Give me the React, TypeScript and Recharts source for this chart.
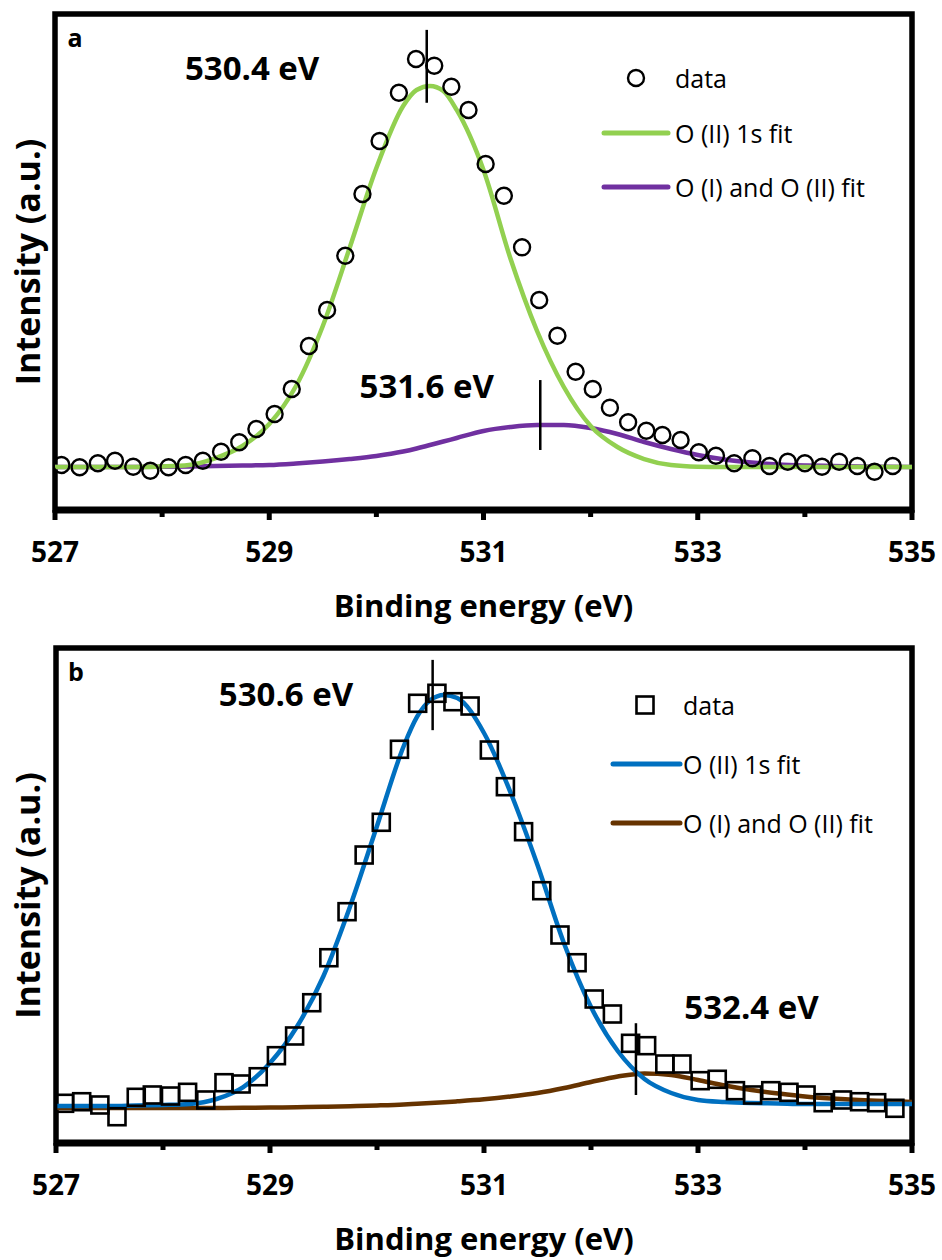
import {
  ComposedChart,
  Line,
  Scatter,
  XAxis,
  YAxis,
  ReferenceLine,
  ReferenceArea,
  ReferenceDot,
  Legend,
} from 'recharts';

const FONT = "'Open Sans', 'Noto Sans', sans-serif";

// energy grid of the fitted curves (eV)
const fitEnergy = [
  527, 527.25, 527.5, 527.75, 528, 528.25, 528.5, 528.75, 529, 529.25, 529.5, 529.75,
  530, 530.25, 530.375, 530.5, 530.625, 530.75, 531, 531.25, 531.5, 531.75, 532, 532.25,
  532.5, 532.75, 533, 533.25, 533.5, 533.75, 534, 534.25, 534.5, 534.75, 535,
];

// panel a
const energyA = [
  527.06, 527.23, 527.4, 527.56, 527.73, 527.89, 528.06, 528.22, 528.38, 528.55, 528.72, 528.88,
  529.05, 529.21, 529.37, 529.54, 529.71, 529.87, 530.03, 530.21, 530.37, 530.54, 530.7, 530.86,
  531.02, 531.19, 531.36, 531.52, 531.69, 531.86, 532.02, 532.18, 532.35, 532.52, 532.67, 532.84,
  533.01, 533.17, 533.34, 533.51, 533.67, 533.84, 534.0, 534.16, 534.32, 534.49, 534.65, 534.82,
];
const countsA = [
  9.07, 8.61, 9.42, 9.94, 8.73, 7.92, 8.61, 9.07, 9.94, 11.75, 13.65, 16.33,
  19.35, 24.4, 33.06, 40.32, 51.27, 63.71, 74.4, 84.13, 90.93, 89.58, 85.34, 80.65,
  69.76, 63.37, 52.96, 42.34, 35.14, 27.88, 24.4, 20.63, 17.68, 15.99, 15.12, 14.11,
  11.63, 10.95, 9.42, 10.42, 8.87, 9.74, 9.42, 8.73, 9.74, 8.87, 7.72, 8.87,
];
const fitO2A = [
  8.67, 8.67, 8.67, 8.67, 8.77, 9.07, 10.48, 12.9, 17.34, 25.0, 37.1, 52.82,
  68.95, 81.45, 84.68, 85.48, 84.48, 80.65, 68.55, 50.81, 36.09, 24.8, 16.94, 12.7,
  10.28, 9.07, 8.73, 8.67, 8.67, 8.67, 8.67, 8.67, 8.67, 8.67, 8.67,
];
const fitO1A = [
  8.67, 8.67, 8.67, 8.67, 8.71, 8.77, 8.87, 8.97, 9.07, 9.38, 9.78, 10.28,
  10.89, 11.79, 12.4, 13.1, 13.8, 14.52, 15.93, 16.73, 17.14, 17.14, 16.53, 15.32,
  13.71, 12.3, 11.09, 10.18, 9.58, 9.17, 8.97, 8.87, 8.77, 8.73, 8.67,
];

// panel b
const energyB = [
  527.08, 527.24, 527.41, 527.57, 527.75, 527.9, 528.07, 528.23, 528.4, 528.57, 528.73, 528.89,
  529.06, 529.23, 529.39, 529.55, 529.72, 529.88, 530.04, 530.21, 530.38, 530.56, 530.71, 530.87,
  531.05, 531.2, 531.37, 531.54, 531.71, 531.87, 532.03, 532.2, 532.37, 532.52, 532.69, 532.85,
  533.02, 533.18, 533.35, 533.51, 533.68, 533.85, 534.01, 534.17, 534.35, 534.51, 534.67, 534.84,
];
const countsB = [
  8.02, 8.34, 7.68, 5.31, 9.23, 9.7, 9.49, 10.24, 8.69, 12.18, 11.92, 13.39,
  17.64, 21.62, 28.34, 37.43, 46.73, 58.18, 64.79, 79.54, 88.83, 90.85, 89.15, 88.28,
  79.39, 71.98, 62.89, 50.97, 42.02, 36.42, 29.09, 26.06, 20.14, 19.66, 15.96, 15.96,
  12.59, 12.87, 10.57, 9.7, 10.57, 10.24, 9.7, 8.14, 8.69, 8.34, 8.14, 7.01,
];
const fitO2B = [
  7.47, 7.47, 7.47, 7.58, 7.68, 7.88, 8.89, 11.31, 16.16, 23.43, 33.74, 47.88,
  64.04, 80.2, 86.12, 89.49, 90.51, 89.9, 82.83, 70.71, 56.16, 40.2, 27.47, 18.59,
  12.93, 10.1, 8.69, 8.28, 8.08, 7.98, 7.88, 7.88, 7.88, 7.88, 7.88,
];
const fitO1B = [
  7.07, 7.07, 7.07, 7.07, 7.07, 7.07, 7.07, 7.11, 7.17, 7.23, 7.31, 7.43,
  7.58, 7.78, 7.93, 8.08, 8.24, 8.42, 8.83, 9.39, 10.1, 11.11, 12.32, 13.43,
  14.04, 13.74, 12.73, 11.62, 10.71, 10.0, 9.39, 8.99, 8.69, 8.48, 8.28,
];

const xTicks = [527, 528, 529, 530, 531, 532, 533, 534, 535];
const legendNames = ['data', 'O (II) 1s fit', 'O (I) and O (II) fit'];

const toPoints = (xs: number[], ys: number[]) => xs.map((x, i) => ({ x, y: ys[i] }));

function EnergyTick({ x, y, payload }: any) {
  const major = (payload.value - 527) % 2 === 0;
  return (
    <g>
      <line x1={x} x2={x} y1={y} y2={y + (major ? 10 : 7)} stroke="#000" strokeWidth={5} />
      {major && (
        <text
          x={x}
          y={y + 41}
          textAnchor="middle"
          dominantBaseline="central"
          fontFamily={FONT}
          fontWeight={700}
          fontSize={28}
          fill="#000"
        >
          {payload.value}
        </text>
      )}
    </g>
  );
}

const peakLabel = (text: string) => (props: any) => {
  const vb = props.viewBox || {};
  const cx = vb.x + (vb.width || 0) / 2;
  const cy = vb.y + (vb.height || 0) / 2;
  return (
    <text
      x={cx}
      y={cy}
      textAnchor="middle"
      dominantBaseline="central"
      fontFamily={FONT}
      fontWeight={700}
      fontSize={33}
      fill="#000"
    >
      {text}
    </text>
  );
};

function Marker({ cx, cy, kind }: any) {
  if (cx == null || cy == null) return null;
  if (kind === 'square') {
    return <rect x={cx - 8.5} y={cy - 8.5} width={17} height={17} fill="none" stroke="#000" strokeWidth={2.6} />;
  }
  return <circle cx={cx} cy={cy} r={8} fill="none" stroke="#000" strokeWidth={2.4} />;
}

interface PanelProps {
  letter: string;
  height: number;
  left: number;
  points: { x: number; y: number }[];
  fitMain: { x: number; y: number }[];
  fitSide: { x: number; y: number }[];
  mainColor: string;
  sideColor: string;
  marker: 'circle' | 'square';
  peakLines: { x: number; y1: number; y2: number }[];
  peakTexts: { x: number; y: number; text: string }[];
  legend: { left: number; top: number; rows: number[]; sym: number; l1: number; l2: number; tx: number };
}

function Panel(p: PanelProps) {
  const top = 14;
  const axisLabel = (props: any) => {
    const vb = props.viewBox || {};
    const cx = vb.x + vb.width / 2;
    const cy = (top + vb.y) / 2;
    return (
      <g fontFamily={FONT} fill="#000">
        <text x={cx} y={vb.y + 95} textAnchor="middle" dominantBaseline="central" fontWeight={700} fontSize={31}>
          Binding energy (eV)
        </text>
        <text
          x={27}
          y={cy}
          transform={`rotate(-90 27 ${cy})`}
          textAnchor="middle"
          dominantBaseline="central"
          fontWeight={700}
          fontSize={34}
        >
          Intensity (a.u.)
        </text>
        <text x={vb.x + 20} y={top + 23} textAnchor="middle" dominantBaseline="central" fontWeight={700} fontSize={25}>
          {p.letter}
        </text>
      </g>
    );
  };

  const lg = p.legend;
  const renderLegend = () => (
    <svg width={330} height={170} style={{ display: 'block' }}>
      {p.marker === 'square' ? (
        <rect x={lg.sym - 8.5} y={lg.rows[0] - 8.5} width={17} height={17} fill="none" stroke="#000" strokeWidth={2.6} />
      ) : (
        <circle cx={lg.sym} cy={lg.rows[0]} r={8} fill="none" stroke="#000" strokeWidth={2.4} />
      )}
      <line x1={lg.l1} x2={lg.l2} y1={lg.rows[1]} y2={lg.rows[1]} stroke={p.mainColor} strokeWidth={5} strokeLinecap="round" />
      <line x1={lg.l1} x2={lg.l2} y1={lg.rows[2]} y2={lg.rows[2]} stroke={p.sideColor} strokeWidth={5} strokeLinecap="round" />
      {legendNames.map((name, i) => (
        <text key={name} x={lg.tx} y={lg.rows[i]} dominantBaseline="central" fontFamily={FONT} fontSize={25} fill="#000">
          {name}
        </text>
      ))}
    </svg>
  );

  return (
    <ComposedChart width={942} height={p.height} margin={{ top, right: 30, bottom: 0, left: p.left }}>
      <XAxis
        type="number"
        dataKey="x"
        domain={[527, 535]}
        ticks={xTicks}
        allowDataOverflow
        height={p.height - top - 496 + (p.letter === 'b' ? 1 : 0)}
        tickSize={0}
        tickMargin={0}
        tickLine={false}
        axisLine={{ stroke: '#000', strokeWidth: 7 }}
        tick={<EnergyTick />}
        label={{ content: axisLabel }}
      />
      <YAxis type="number" dataKey="y" domain={[0, 100]} hide />
      <ReferenceArea x1={527} x2={535} y1={0} y2={100} fill="none" stroke="#000" strokeWidth={5.5} ifOverflow="visible" />
      <Legend
        layout="vertical"
        align="center"
        verticalAlign="middle"
        content={renderLegend}
        wrapperStyle={{ left: lg.left, top: lg.top, width: 330, height: 170 }}
      />
      <Line
        data={p.fitSide}
        dataKey="y"
        type="monotone"
        stroke={p.sideColor}
        strokeWidth={4.5}
        dot={false}
        isAnimationActive={false}
      />
      <Line
        data={p.fitMain}
        dataKey="y"
        type="monotone"
        stroke={p.mainColor}
        strokeWidth={4.5}
        dot={false}
        isAnimationActive={false}
      />
      <Scatter
        data={p.points}
        dataKey="y"
        shape={(s: any) => <Marker cx={s.cx} cy={s.cy} kind={p.marker} />}
        isAnimationActive={false}
      />
      {p.peakLines.map((l, i) => (
        <ReferenceLine
          key={`pl${i}`}
          segment={[
            { x: l.x, y: l.y1 },
            { x: l.x, y: l.y2 },
          ]}
          stroke="#000"
          strokeWidth={2.5}
          ifOverflow="visible"
        />
      ))}
      {p.peakTexts.map((t, i) => (
        <ReferenceDot
          key={`pt${i}`}
          x={t.x}
          y={t.y}
          r={0}
          fill="none"
          stroke="none"
          ifOverflow="visible"
          label={{ content: peakLabel(t.text) }}
        />
      ))}
    </ComposedChart>
  );
}

export default function App() {
  return (
    <div style={{ position: 'absolute', left: 0, top: 0, width: 942, height: 1260, background: '#fff' }}>
      <div style={{ position: 'absolute', left: 0, top: 0 }}>
        <Panel
          letter="a"
          height={634}
          left={55}
          points={toPoints(energyA, countsA)}
          fitMain={toPoints(fitEnergy, fitO2A)}
          fitSide={toPoints(fitEnergy, fitO1A)}
          mainColor="#92D050"
          sideColor="#7030A0"
          marker="circle"
          peakLines={[
            { x: 530.47, y1: 96.8, y2: 82.1 },
            { x: 531.53, y1: 26.2, y2: 12.1 },
          ]}
          peakTexts={[
            { x: 528.84, y: 89.3, text: '530.4 eV' },
            { x: 530.47, y: 25.2, text: '531.6 eV' },
          ]}
          legend={{ left: 590, top: 55, rows: [23, 78, 132], sym: 46, l1: 14, l2: 78, tx: 85 }}
        />
      </div>
      <div style={{ position: 'absolute', left: 0, top: 634 }}>
        <Panel
          letter="b"
          height={626}
          left={56}
          points={toPoints(energyB, countsB)}
          fitMain={toPoints(fitEnergy, fitO2B)}
          fitSide={toPoints(fitEnergy, fitO1B)}
          mainColor="#0070C0"
          sideColor="#663300"
          marker="square"
          peakLines={[
            { x: 530.52, y1: 97.6, y2: 83.4 },
            { x: 532.42, y1: 24.2, y2: 9.7 },
          ]}
          peakTexts={[
            { x: 529.15, y: 90.8, text: '530.6 eV' },
            { x: 533.5, y: 27.6, text: '532.4 eV' },
          ]}
          legend={{ left: 600, top: 50, rows: [21, 80, 139], sym: 45, l1: 13, l2: 80, tx: 83 }}
        />
      </div>
    </div>
  );
}
